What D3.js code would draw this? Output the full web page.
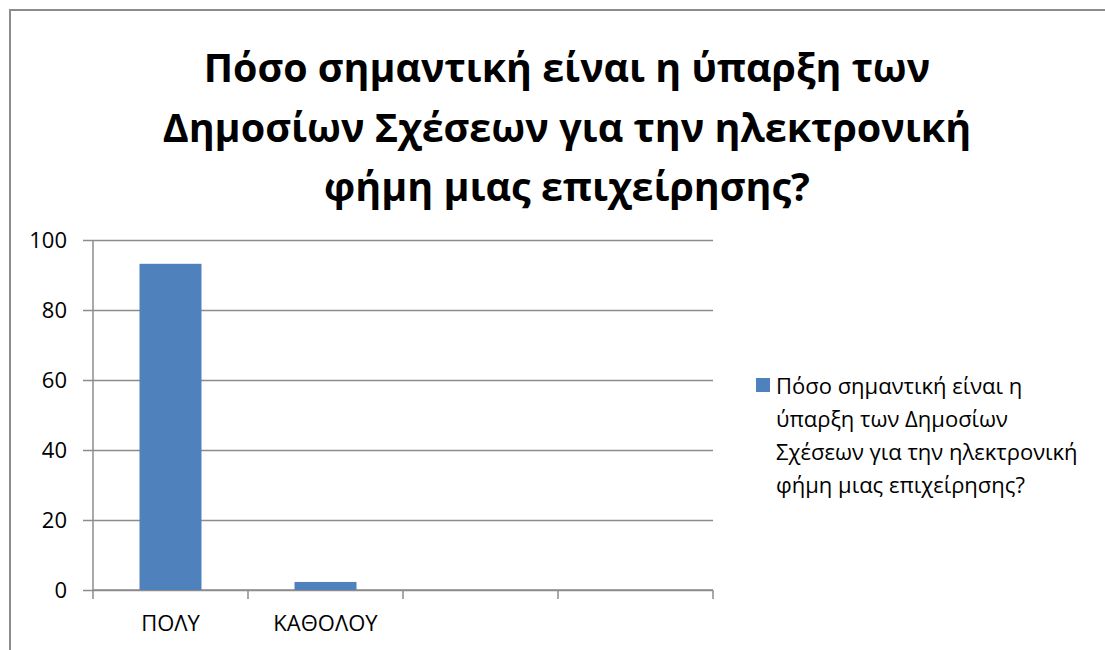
<!DOCTYPE html>
<html>
<head>
<meta charset="utf-8">
<script src="https://cdn.jsdelivr.net/npm/d3@7"></script>
<style>
  html, body { margin: 0; padding: 0; background: #fff; }
  svg { display: block; }
  text { font-family: "Open Sans", "Noto Sans", sans-serif; fill: #000; }
</style>
</head>
<body>
<svg id="chart" width="1105" height="650"></svg>
<script>
// Survey answers and their share of respondents
const categories = ["ΠΟΛΥ", "ΚΑΘΟΛΟΥ", "", " "];
const values = [93.2, 2.3, null, null];
const yTicks = [0, 20, 40, 60, 80, 100];
const titleLines = [
  "Πόσο σημαντική είναι η ύπαρξη των",
  "Δημοσίων Σχέσεων για την ηλεκτρονική",
  "φήμη μιας επιχείρησης?"
];
const seriesName = "Πόσο σημαντική είναι η ύπαρξη των Δημοσίων Σχέσεων για την ηλεκτρονική φήμη μιας επιχείρησης?";
const legendLines = [
  "Πόσο σημαντική είναι η",
  "ύπαρξη των Δημοσίων",
  "Σχέσεων για την ηλεκτρονική",
  "φήμη μιας επιχείρησης?"
];

const svg = d3.select("#chart");
const barColor = "#4F81BD";
const lineColor = "#8c8c8c";
const fontStack = "'Open Sans', 'Noto Sans', sans-serif";

// Outer chart frame (only the top and left edges fall inside the view)
svg.append("rect")
  .attr("x", 10).attr("y", 10)
  .attr("width", 1200).attr("height", 800)
  .attr("fill", "none")
  .attr("stroke", lineColor)
  .attr("stroke-width", 2);

// Title, each line fitted to its width
const titleTargets = [727, 809, 486];
const titleCenters = [67, 127, 186];
titleLines.forEach((line, i) => {
  const t = svg.append("text")
    .attr("x", 567)
    .attr("y", titleCenters[i])
    .attr("text-anchor", "middle")
    .attr("dominant-baseline", "central")
    .attr("font-weight", "bold")
    .attr("font-size", 40)
    .text(line);
  const w = t.node().getComputedTextLength();
  t.attr("font-size", 40 * titleTargets[i] / w);
});

// Plot area
const plot = { left: 93, right: 713, top: 240, bottom: 590 };

const x = d3.scaleBand()
  .domain(categories)
  .range([plot.left, plot.right])
  .paddingInner(0)
  .paddingOuter(0);

const y = d3.scaleLinear()
  .domain([0, 100])
  .range([plot.bottom, plot.top]);

// Horizontal gridlines with short tick stubs on the left
const yAxis = d3.axisLeft(y)
  .tickValues(yTicks)
  .tickSize(-(plot.right - plot.left))
  .tickSizeOuter(0)
  .tickPadding(26)
  .tickFormat(d3.format("d"));

const gy = svg.append("g")
  .attr("transform", `translate(${plot.left},0)`)
  .call(yAxis);
gy.select(".domain").remove();
gy.selectAll(".tick line")
  .attr("x1", -10)
  .attr("stroke", lineColor)
  .attr("stroke-width", 1.5);
gy.selectAll(".tick text")
  .attr("font-size", 22)
  .attr("fill", "#000")
  .style("font-family", fontStack);

// Vertical axis line
svg.append("line")
  .attr("x1", plot.left).attr("x2", plot.left)
  .attr("y1", plot.top).attr("y2", plot.bottom)
  .attr("stroke", lineColor)
  .attr("stroke-width", 1.5);

// Category axis with ticks at band boundaries
const gx = svg.append("g")
  .attr("transform", `translate(0,${plot.bottom})`)
  .call(d3.axisBottom(x).tickSize(0).tickPadding(25));
gx.select(".domain").remove();
gx.selectAll(".tick text")
  .attr("font-size", 22)
  .attr("fill", "#000")
  .style("font-family", fontStack);

svg.append("line")
  .attr("x1", plot.left).attr("x2", plot.right)
  .attr("y1", plot.bottom).attr("y2", plot.bottom)
  .attr("stroke", lineColor)
  .attr("stroke-width", 1.5);

const boundaries = categories.map(c => x(c)).concat([x(categories[categories.length - 1]) + x.bandwidth()]);
svg.append("g").selectAll("line")
  .data(boundaries)
  .join("line")
  .attr("x1", d => d).attr("x2", d => d)
  .attr("y1", plot.bottom).attr("y2", plot.bottom + 9)
  .attr("stroke", lineColor)
  .attr("stroke-width", 1.5);

// Bars
const barWidth = x.bandwidth() * 0.4;
svg.append("g").selectAll("rect")
  .data(categories.map((c, i) => ({ c, v: values[i] })).filter(d => d.v != null))
  .join("rect")
  .attr("x", d => x(d.c) + (x.bandwidth() - barWidth) / 2)
  .attr("y", d => y(d.v))
  .attr("width", barWidth)
  .attr("height", d => y(0) - y(d.v))
  .attr("fill", barColor);

// Legend
const legend = svg.append("g").attr("aria-label", seriesName);
legend.append("rect")
  .attr("x", 756).attr("y", 378)
  .attr("width", 14).attr("height", 14)
  .attr("fill", barColor);
const legendText = legend.selectAll("text")
  .data(legendLines)
  .join("text")
  .attr("x", 776)
  .attr("y", (d, i) => 385 + i * 33)
  .attr("dominant-baseline", "central")
  .attr("font-size", 20)
  .text(d => d);
// Size the legend so its widest line spans the available width
const widest = d3.max(legendText.nodes(), n => n.getComputedTextLength());
legendText.attr("font-size", Math.min(22, 20 * 314 / widest));
</script>
</body>
</html>
